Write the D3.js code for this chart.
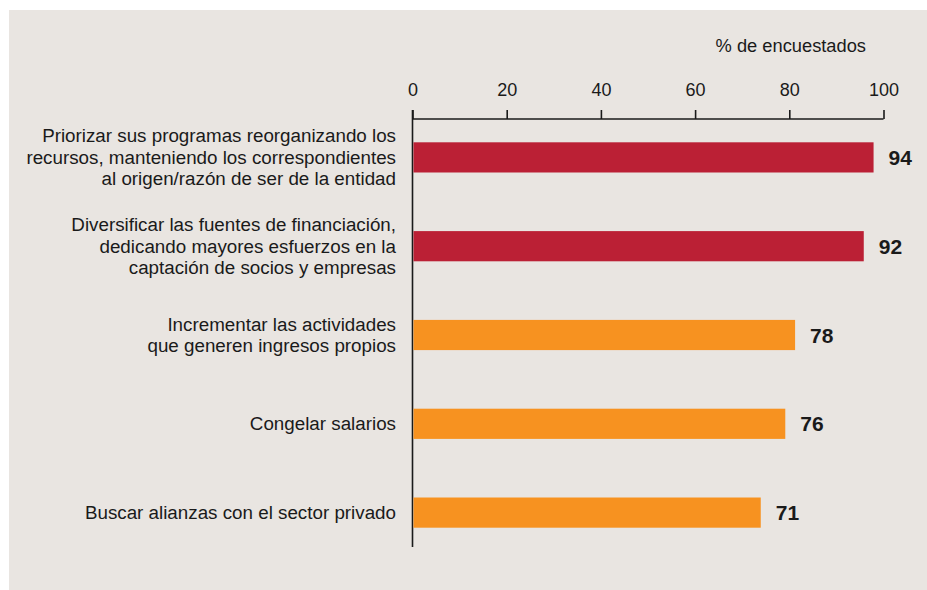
<!DOCTYPE html>
<html>
<head>
<meta charset="utf-8">
<script src="https://cdn.jsdelivr.net/npm/d3@7"></script>
<style>
  body { margin: 0; background: #fff; }
  svg { display: block; }
  text { font-family: "Liberation Sans", Arial, sans-serif; fill: #1a1a1a; }
</style>
</head>
<body>
<svg id="chart"></svg>
<script>
var width = 927;
var height = 590;

// data
var categories = [
  ['Priorizar sus programas reorganizando los', 'recursos, manteniendo los correspondientes', 'al origen/razón de ser de la entidad'],
  ['Diversificar las fuentes de financiación,', 'dedicando mayores esfuerzos en la', 'captación de socios y empresas'],
  ['Incrementar las actividades', 'que generen ingresos propios'],
  ['Congelar salarios'],
  ['Buscar alianzas con el sector privado']
];
var values = [94, 92, 78, 76, 71];
var groups = ['top', 'top', 'rest', 'rest', 'rest'];
var tickValues = [0, 20, 40, 60, 80, 100];
var axisTitle = '% de encuestados';

var svg = d3.select('#chart').attr('width', width).attr('height', height);

svg.append('rect')
  .attr('x', 9).attr('y', 10)
  .attr('width', width - 9).attr('height', height - 10)
  .attr('fill', '#e9e5e1');

var x0 = 412.5;
// axis scale as printed
var x = d3.scaleLinear().domain([0, 100]).range([x0, 883.5]);
// bars in the original run slightly longer than the axis spacing
var xBar = d3.scaleLinear().domain([0, 100]).range([x0, 903]);

var y = d3.scaleBand()
  .domain(d3.range(values.length))
  .range([113, 557])
  .paddingInner(0.66)
  .paddingOuter(0.33);

var color = d3.scaleOrdinal().domain(['top', 'rest']).range(['#bb2035', '#f79220']);

var axisY = 119;
var axis = d3.axisTop(x)
  .tickValues(tickValues)
  .tickSize(9)
  .tickPadding(14)
  .tickFormat(d3.format('d'));

var gAxis = svg.append('g')
  .attr('transform', 'translate(0,' + axisY + ')')
  .call(axis);
gAxis.select('.domain').attr('stroke', '#1a1a1a').attr('stroke-width', 1.6)
  .attr('d', 'M' + x0 + ',0H' + x(100));
gAxis.selectAll('.tick line').attr('stroke', '#1a1a1a').attr('stroke-width', 1.6);
gAxis.selectAll('.tick text')
  .attr('font-size', 18)
  .attr('font-family', '"Liberation Sans", Arial, sans-serif')
  .attr('fill', '#1a1a1a');

svg.append('text')
  .attr('x', 866).attr('y', 52)
  .attr('text-anchor', 'end')
  .attr('font-size', 18.3)
  .text(axisTitle);

// vertical baseline
svg.append('line')
  .attr('x1', x0).attr('x2', x0)
  .attr('y1', axisY - 9).attr('y2', 547)
  .attr('stroke', '#1a1a1a').attr('stroke-width', 1.6);

var rows = svg.append('g').selectAll('g')
  .data(values)
  .enter().append('g');

rows.append('rect')
  .attr('x', x0 + 1)
  .attr('y', function (d, i) { return y(i); })
  .attr('width', function (d) { return xBar(d) - x0 - 1; })
  .attr('height', y.bandwidth())
  .attr('fill', function (d, i) { return color(groups[i]); });

rows.append('text')
  .attr('x', function (d) { return xBar(d) + 15; })
  .attr('y', function (d, i) { return y(i) + y.bandwidth() / 2 + 7.5; })
  .attr('font-size', 21)
  .attr('font-weight', 'bold')
  .attr('fill', '#000')
  .text(function (d) { return d; });

var lineH = 21.5;
rows.append('text')
  .attr('text-anchor', 'end')
  .attr('font-size', 18.8)
  .each(function (d, i) {
    var lines = categories[i];
    var cy = y(i) + y.bandwidth() / 2;
    var first = cy + 6.5 - (lines.length - 1) * lineH / 2;
    d3.select(this).selectAll('tspan')
      .data(lines)
      .enter().append('tspan')
      .attr('x', 396)
      .attr('y', function (l, j) { return first + j * lineH; })
      .text(function (l) { return l; });
  });
</script>
</body>
</html>
